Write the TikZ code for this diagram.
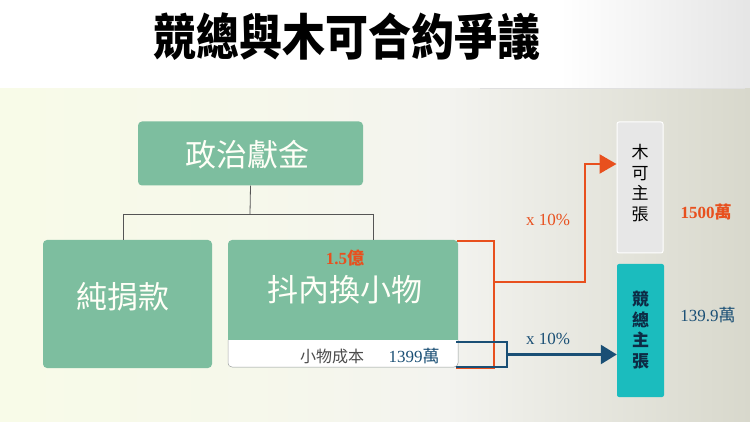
\documentclass[tikz,border=0pt]{standalone}
\usepackage{fontspec}
\setmainfont{Liberation Serif}
\newfontfamily\cjk{Noto Sans CJK TC}
\usetikzlibrary{arrows.meta}
\definecolor{boxgreen}{HTML}{7DBE9F}
\definecolor{orng}{HTML}{E8501E}
\definecolor{dblue}{HTML}{1A4F75}
\definecolor{teal2}{HTML}{1BBCBE}
\definecolor{navy}{HTML}{0D2B45}
\definecolor{greybox}{HTML}{E7E7E7}
\definecolor{bgL}{HTML}{F8FBE8}
\definecolor{bgM}{HTML}{F3F3EF}
\definecolor{bgR}{HTML}{D8D8CC}
\definecolor{linegrey}{HTML}{555555}
\pgfdeclarehorizontalshading{bgshade}{100bp}{color(0bp)=(bgL); color(25bp)=(bgL); color(42bp)=(bgL!60!bgM); color(55bp)=(bgM); color(75bp)=(bgR); color(100bp)=(bgR)}
\tikzset{
  gbox/.style={rounded corners=4pt, fill=boxgreen, inner sep=0pt},
  bigtxt/.style={text=white!97!yellow, font=\cjk\fontsize{31}{31}\selectfont, inner sep=0pt},
  conn/.style={draw=linegrey, line width=0.8pt},
  oline/.style={draw=orng, line width=2.4pt},
  bline/.style={draw=dblue, line width=2.4pt},
  vtext/.style={align=center, inner sep=0pt, font=\cjk\fontsize{17}{20.5}\selectfont},
}
\begin{document}
\begin{tikzpicture}[x=1pt,y=-1pt]
\useasboundingbox (0,0) rectangle (750,422);
% background
\shade[shading=bgshade] (0,88) rectangle (750,422);
\fill[white] (0,0) rectangle (750,88);
\shade[left color=white, right color=black!10] (560,0) rectangle (750,88);
\draw[black!12, line width=0.6pt] (480,88) -- (745,88);
% title
\node[font=\cjk\bfseries\fontsize{48}{48}\selectfont, inner sep=0pt] (title) at (347,37) {\scalebox{0.895}[1.03]{競總與木可合約爭議}};
% boxes
\node[gbox, minimum width=225pt, minimum height=64pt] (top) at (250.5,153.5) {};
\node[bigtxt] (toptxt) at (247,155) {政治獻金};
\node[gbox, minimum width=169pt, minimum height=128pt] (left) at (127.5,304) {};
\node[bigtxt] (lefttxt) at (123,297) {純捐款};
\node[gbox, minimum width=230pt, minimum height=127pt] (mid) at (343,303.5) {};
\fill[white] (228,340) -- (458,340) [rounded corners=4pt] -- (458,367) -- (228,367) [sharp corners] -- cycle;
\draw[black!35, line width=0.5pt] (228,340) [rounded corners=4pt] -- (228,367) -- (458,367) [sharp corners] -- (458,340);
\node[bigtxt] (midtxt) at (345,290) {抖內換小物};
\node[text=orng, font=\bfseries\fontsize{17}{17}\selectfont, inner sep=0pt] (amt) at (345,258) {1.5{\cjk 億}};
\node[text=black!70, font=\cjk\fontsize{16}{16}\selectfont, inner sep=0pt] (costlbl) at (332,356) {小物成本};
\node[text=dblue, font=\fontsize{17}{17}\selectfont, inner sep=0pt] (cost) at (414,356) {1399{\cjk 萬}};
% right boxes
\node[fill=greybox, draw=white, line width=1pt, rounded corners=2pt, minimum width=46pt, minimum height=131pt, inner sep=0pt] (mk) at (640,187.5) {};
\node[vtext, text=black] (mktxt) at (640,183) {木\\可\\主\\張};
\node[fill=teal2, rounded corners=2pt, minimum width=47pt, minimum height=133pt, inner sep=0pt] (jz) at (640.5,330.5) {};
\node[vtext, text=navy, font=\cjk\bfseries\fontsize{17}{20.5}\selectfont] (jztxt) at (640.5,330) {競\\總\\主\\張};
\node[text=orng, font=\bfseries\fontsize{17}{17}\selectfont, inner sep=0pt] (v1) at (706,212) {1500{\cjk 萬}};
\node[text=dblue, font=\fontsize{17}{17}\selectfont, inner sep=0pt] (v2) at (708,315) {139.9{\cjk 萬}};
\node[text=orng, font=\fontsize{17}{17}\selectfont, inner sep=0pt] (p1) at (548,220) {x 10\%};
\node[text=dblue, font=\fontsize{17}{17}\selectfont, inner sep=0pt] (p2) at (548,339) {x 10\%};
% tree connectors
\coordinate (hb) at (250,214);
\coordinate (hl) at (123,214);
\coordinate (hr) at (373,214);
\draw[conn] (top.south) -- (hb);
\draw[conn] (hl) -- (hr);
\draw[conn] (hl) -- (hl |- left.north);
\draw[conn] (hr) -- (hr |- mid.north);
% orange bracket and arrow
\coordinate (ob) at (494,282);
\coordinate (oc) at (585,164);
\draw[oline] (457,241) -- (494,241) -- (494,368) -- (456,368);
\draw[oline, -{Triangle[length=17pt,width=19pt]}] (ob) -| (oc) -- (mk.west |- oc);
% blue bracket and arrow
\coordinate (bb) at (507,354.5);
\draw[bline] (456,342) -- (507,342) -- (507,367) -- (456,367);
\draw[bline, -{Triangle[length=16pt,width=19pt]}] (bb) -- (jz.west |- bb);
\end{tikzpicture}
\end{document}
